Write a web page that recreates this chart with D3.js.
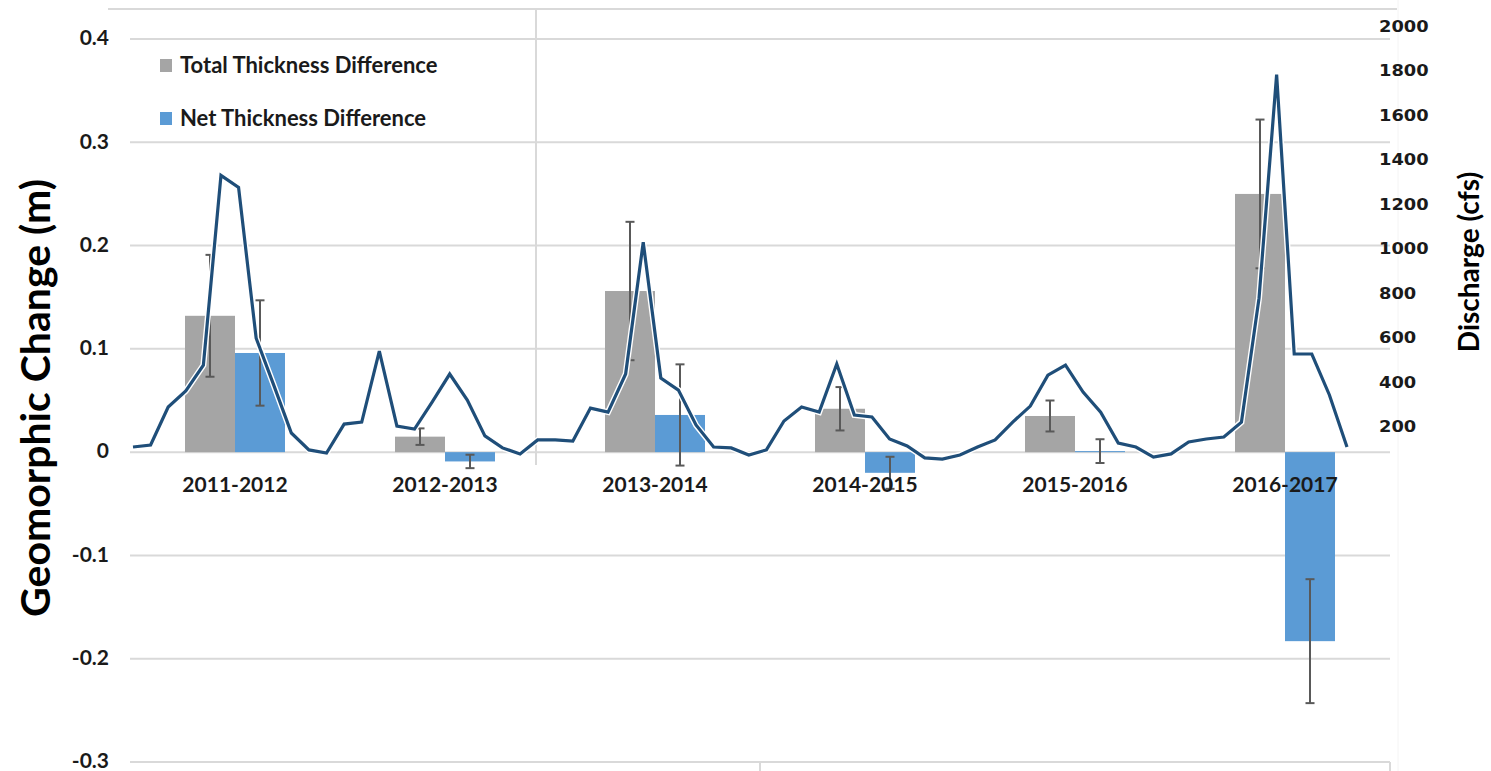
<!DOCTYPE html>
<html>
<head>
<meta charset="utf-8">
<script src="https://cdn.jsdelivr.net/npm/d3@7"></script>
<style>
  html, body { margin: 0; padding: 0; background: #ffffff; }
  svg { display: block; }
  text { font-family: Lato, "Open Sans", "Liberation Sans", sans-serif; }
</style>
</head>
<body>
<svg id="chart" width="1491" height="771"></svg>
<script>
// Survey intervals
const categories = ["2011-2012", "2012-2013", "2013-2014", "2014-2015", "2015-2016", "2016-2017"];

// Geomorphic change (m) and uncertainty for each interval
const totalDiff = [0.132, 0.015, 0.156, 0.042, 0.035, 0.250];
const totalErr  = [0.059, 0.008, 0.067, 0.021, 0.015, 0.072];
const netDiff   = [0.096, -0.009, 0.036, -0.020, 0.001, -0.183];
const netErr    = [0.051, 0.0065, 0.049, 0.0155, 0.0115, 0.060];

// Monthly discharge (cfs)
const discharge = [
  110, 119, 290, 362, 478, 1331, 1277, 599, 388, 173,
  97, 83, 213, 222, 541, 204, 191, 312, 438, 321,
  160, 106, 79, 142, 142, 137, 285, 267, 438, 1030,
  420, 366, 209, 110, 106, 74, 97, 227, 290, 267,
  483, 254, 245, 146, 115, 61, 56, 74, 110, 142,
  222, 294, 433, 478, 357, 267, 128, 110, 65, 79,
  133, 146, 155, 222, 779, 1784, 528, 528, 344, 110
];

// Axis ticks
const leftTicks  = [-0.3, -0.2, -0.1, 0, 0.1, 0.2, 0.3, 0.4];
const rightTicks = [200, 400, 600, 800, 1000, 1200, 1400, 1600, 1800, 2000];

const seriesNames = ["Total Thickness Difference", "Net Thickness Difference"];
const colors = { total: "#a5a5a5", net: "#5b9bd5", line: "#1f4e79", err: "#595959", grid: "#d9d9d9" };

const svg = d3.select("#chart");
const W = 1491, H = 771;
const plot = { left: 130, right: 1390, top: 39, bottom: 762 };

// Scales
const x0 = d3.scaleBand().domain(categories).range([plot.left, plot.right])
  .paddingInner(110 / 210).paddingOuter(55 / 210);
const x1 = d3.scaleBand().domain(["total", "net"]).range([0, x0.bandwidth()]).padding(0);
const y = d3.scaleLinear().domain([-0.3, 0.4]).range([plot.bottom, plot.top]);
const yR = d3.scaleLinear().domain([0, 2000]).range([471.5, 26.5]);
const xLine = d3.scaleLinear().domain([0, discharge.length - 1]).range([133, 1347]);

// Frame lines
const frame = svg.append("g").attr("stroke", colors.grid).attr("stroke-width", 2).attr("fill", "none");
frame.append("line").attr("x1", 108).attr("x2", 1397).attr("y1", 9).attr("y2", 9);
frame.append("line").attr("x1", 536).attr("x2", 536).attr("y1", 9).attr("y2", 465);
frame.append("line").attr("x1", (plot.left + plot.right) / 2).attr("x2", (plot.left + plot.right) / 2)
  .attr("y1", plot.bottom).attr("y2", H);
frame.append("line").attr("x1", plot.right).attr("x2", plot.right).attr("y1", plot.bottom).attr("y2", H);
svg.append("line").attr("x1", 1398).attr("x2", 1398).attr("y1", 0).attr("y2", H)
  .attr("stroke", "#f4f4f4").attr("stroke-width", 1);

// Horizontal gridlines
svg.append("g").selectAll("line").data(leftTicks).join("line")
  .attr("x1", plot.left).attr("x2", plot.right)
  .attr("y1", d => y(d)).attr("y2", d => y(d))
  .attr("stroke", colors.grid).attr("stroke-width", 2);

// Bars
const rows = categories.map((c, i) => ({
  cat: c,
  bars: [
    { key: "total", v: totalDiff[i], e: totalErr[i] },
    { key: "net", v: netDiff[i], e: netErr[i] }
  ]
}));

const groups = svg.append("g").selectAll("g").data(rows).join("g")
  .attr("transform", d => `translate(${x0(d.cat)},0)`);

groups.selectAll("rect").data(d => d.bars).join("rect")
  .attr("x", d => x1(d.key))
  .attr("width", x1.bandwidth())
  .attr("y", d => y(Math.max(0, d.v)))
  .attr("height", d => Math.abs(y(d.v) - y(0)))
  .attr("fill", d => colors[d.key]);

// Error bars
const cap = 4.5;
const eb = groups.selectAll("g.err").data(d => d.bars).join("g").attr("class", "err")
  .attr("stroke", colors.err).attr("stroke-width", 2);
eb.append("line")
  .attr("x1", d => x1(d.key) + x1.bandwidth() / 2).attr("x2", d => x1(d.key) + x1.bandwidth() / 2)
  .attr("y1", d => y(d.v + d.e)).attr("y2", d => y(d.v - d.e));
eb.append("line")
  .attr("x1", d => x1(d.key) + x1.bandwidth() / 2 - cap).attr("x2", d => x1(d.key) + x1.bandwidth() / 2 + cap)
  .attr("y1", d => y(d.v + d.e)).attr("y2", d => y(d.v + d.e));
eb.append("line")
  .attr("x1", d => x1(d.key) + x1.bandwidth() / 2 - cap).attr("x2", d => x1(d.key) + x1.bandwidth() / 2 + cap)
  .attr("y1", d => y(d.v - d.e)).attr("y2", d => y(d.v - d.e));

// Discharge line with white halo
const lineGen = d3.line().x((d, i) => xLine(i)).y(d => yR(d));
svg.append("path").datum(discharge).attr("d", lineGen)
  .attr("fill", "none").attr("stroke", "#ffffff").attr("stroke-width", 6).attr("stroke-linejoin", "miter");
svg.append("path").datum(discharge).attr("d", lineGen)
  .attr("fill", "none").attr("stroke", colors.line).attr("stroke-width", 3.2).attr("stroke-linejoin", "miter");

// Left axis labels
svg.append("g").selectAll("text").data(leftTicks).join("text")
  .attr("x", 109).attr("y", d => y(d)).attr("dy", "0.3em")
  .attr("text-anchor", "end")
  .attr("font-size", 21).attr("font-weight", "bold").attr("fill", "#1a1a1a")
  .text(d => d === 0 ? "0" : d.toFixed(1));

// Right axis labels
svg.append("g").selectAll("text").data(rightTicks).join("text")
  .attr("x", 1379).attr("y", d => yR(d)).attr("dy", "0.36em")
  .attr("text-anchor", "start")
  .style("font-family", "'DejaVu Sans', sans-serif")
  .attr("font-size", 15).attr("font-weight", "bold").attr("fill", "#1a1a1a")
  .attr("textLength", d => String(d).length * 12.4).attr("lengthAdjust", "spacingAndGlyphs")
  .text(d => d);

// Category labels
svg.append("g").selectAll("text").data(categories).join("text")
  .attr("x", d => x0(d) + x0.bandwidth() / 2).attr("y", 492)
  .attr("text-anchor", "middle")
  .attr("font-size", 21).attr("font-weight", "bold").attr("fill", "#1a1a1a")
  .text(d => d);

// Axis titles
svg.append("text")
  .attr("transform", "translate(50,398) rotate(-90)")
  .attr("text-anchor", "middle")
  .attr("font-size", 41).attr("font-weight", "bold").attr("fill", "#000")
  .text("Geomorphic Change (m)");
svg.append("text")
  .attr("transform", "translate(1479,262) rotate(-90)")
  .attr("text-anchor", "middle")
  .attr("font-size", 28).attr("font-weight", "bold").attr("fill", "#000")
  .text("Discharge (cfs)");

// Legend
const legend = svg.append("g").selectAll("g").data(seriesNames).join("g")
  .attr("transform", (d, i) => `translate(160,${59 + i * 53})`);
legend.append("rect").attr("width", 12).attr("height", 13)
  .attr("fill", (d, i) => i === 0 ? colors.total : colors.net);
legend.append("text").attr("x", 20).attr("y", 14)
  .attr("font-size", 22).attr("font-weight", "bold").attr("fill", "#1a1a1a")
  .text(d => d);
</script>
</body>
</html>
